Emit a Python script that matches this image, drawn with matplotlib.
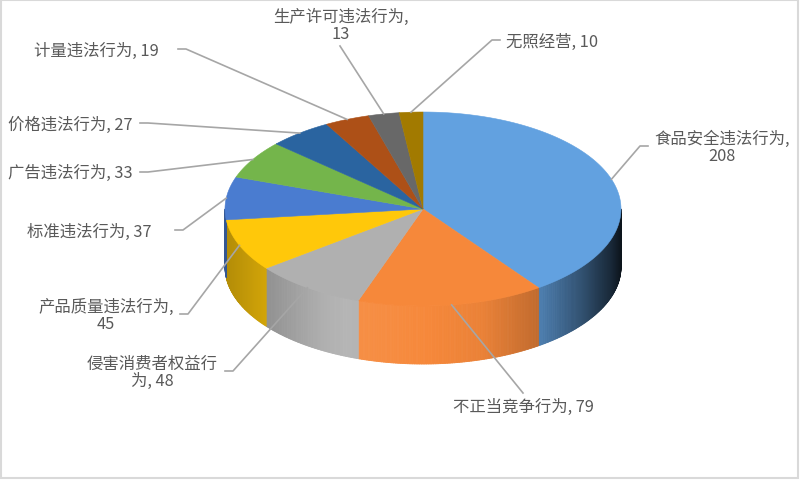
import numpy as np
import matplotlib.pyplot as plt
import matplotlib.colors as mcolors
from matplotlib.patches import Polygon, Rectangle
from matplotlib.collections import PolyCollection

plt.rcParams['font.family'] = ['Noto Sans CJK SC', 'DejaVu Sans']

# data
categories = ['食品安全违法行为', '不正当竞争行为', '侵害消费者权益行为', '产品质量违法行为',
              '标准违法行为', '广告违法行为', '价格违法行为', '计量违法行为',
              '生产许可违法行为', '无照经营']
values = [208, 79, 48, 45, 37, 33, 27, 19, 13, 10]
colors = ['#62A1E0', '#F6883A', '#B0B0B0', '#FFC80A', '#4A7CD0',
          '#74B54B', '#2A64A0', '#AD5017', '#686868', '#A27A00']

# label layout: text centre, start of leader, stub direction, wrap position
label_pos = [(722, 148), (523, 407), (152, 373), (106, 316), (89, 232),
             (70, 173), (70, 125), (96, 51), (341, 26), (552, 42)]
leader_start = [(648, 147), (523, 394), (225, 372), (180, 315), (175, 231),
                (140, 173), (140, 124), (178, 50), (340, 47), (500, 41)]
stub_dir = [-1, 0, 1, 1, 1, 1, 1, 1, 0, -1]
wrap_at = [9, None, 8, 9, None, None, None, None, 9, None]

# pie geometry in pixels
cx, cy, a, b, depth = 423, 210, 198, 97, 58


def rim(theta):
    t = np.radians(theta)
    return cx + a * np.sin(t), cy - b * np.cos(t)


def shade(col, u):
    f = np.interp(u, [-1, -0.8, -0.4, -0.2, 0.3, 0.59, 0.8, 0.95, 1.0],
                  [0.70, 0.82, 1.06, 1.04, 0.95, 0.78, 0.5, 0.25, 0.12])
    c = np.array(mcolors.to_rgb(col))
    if f > 1:
        return tuple(c + (1 - c) * (f - 1))
    return tuple(c * f)


fig = plt.figure(figsize=(8, 4.81), dpi=100)
ax = fig.add_axes([0, 0, 1, 1])
ax.set_xlim(0, 800)
ax.set_ylim(481, 0)
ax.axis('off')

total = sum(values)
bounds = np.concatenate([[0], np.cumsum(values)]) / total * 360

# side walls (front half only)
quads, qcols = [], []
for i, col in enumerate(colors):
    s0, s1 = max(bounds[i], 90), min(bounds[i + 1], 270)
    if s1 <= s0:
        continue
    th = np.linspace(s0, s1, max(2, int((s1 - s0) / 0.5) + 1))
    for t0, t1 in zip(th[:-1], th[1:]):
        x0, y0 = rim(t0)
        x1, y1 = rim(t1)
        quads.append([(x0, y0), (x1, y1), (x1, y1 + depth), (x0, y0 + depth)])
        qcols.append(shade(col, np.sin(np.radians((t0 + t1) / 2))))
ax.add_collection(PolyCollection(quads, facecolors=qcols, edgecolors=qcols,
                                 linewidths=0.6, zorder=1))

# top faces
for i, col in enumerate(colors):
    th = np.linspace(bounds[i], bounds[i + 1], 200)
    xs, ys = rim(th)
    pts = [(cx, cy)] + list(zip(xs, ys))
    ax.add_patch(Polygon(pts, closed=True, facecolor=col, edgecolor=col,
                         lw=0.4, zorder=2))

# labels and leader lines
for i, (cat, val) in enumerate(zip(categories, values)):
    text = f'{cat}, {val}'
    if wrap_at[i]:
        text = text[:wrap_at[i]].rstrip() + '\n' + text[wrap_at[i]:].lstrip()
    ax.text(label_pos[i][0], label_pos[i][1], text, ha='center', va='center',
            fontsize=11.8, color='#595959', linespacing=1.0, zorder=4)
    mid = (bounds[i] + bounds[i + 1]) / 2
    axp, ayp = rim(mid)
    sx, sy = leader_start[i]
    xs = [sx, sx + 8 * stub_dir[i], axp]
    ys = [sy, sy, ayp]
    ax.plot(xs, ys, color='#A6A6A6', lw=1.2, zorder=3)

ax.add_patch(Rectangle((1, 1), 797, 478, fill=False, edgecolor='#D9D9D9',
                       lw=1.5, zorder=5))

fig.savefig('out.png', dpi=100)
